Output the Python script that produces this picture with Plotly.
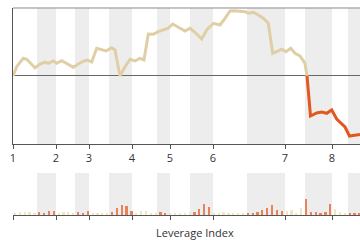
import plotly.graph_objects as go

# ---- data (x in index units along the leverage axis) ----
line_x = [0, 3.7, 10.3, 13.7, 22, 27, 32, 35.3, 40.3, 43.7, 48.7, 53.7, 60.3, 65.3, 70.3, 74.3,
          78.7, 83.7, 88.7, 93, 98.7, 102, 107, 112, 117, 122, 127, 131, 135.3, 140.3, 145.3,
          150.3, 155.3, 159.7, 165.3, 172, 177, 182, 188.7, 193.7, 200.3, 207, 212, 217, 222,
          227, 232, 235.3, 240.3, 245.3, 250.3, 255.3, 259.7, 263.7, 268.7, 273, 277.7, 282,
          287, 292, 294, 297.5, 303.7, 308.7, 313.7, 318.7, 323.7, 328.7, 332, 336.5, 342, 347]
line_y = [0, 9.3, 17.7, 16.7, 8.3, 12, 14, 12.7, 15, 12.7, 15.3, 12.7, 8.7, 12, 14.7, 16,
          14, 27.7, 26, 25, 28.3, 26, 0, 9.3, 16.7, 15, 17.7, 16, 42, 41.7, 44.3,
          46, 47.7, 52, 48.7, 45, 47.7, 43.7, 37, 46, 52.7, 51, 57.7, 65, 65.3,
          65, 64.3, 62.7, 63.7, 61, 57.7, 52.7, 22.7, 24.3, 26.7, 24.3, 27.7, 22.7,
          20, 12.7, 0, -40, -37, -36, -37.3, -34, -43, -48, -51, -60, -59.3, -58.5]

bar_heights = [2.5, 3, 3.5, 3, 2.5, 3, 2.5, 4, 4.5, 2, 3, 3, 2.5, 3.5, 2.5, 4.5,
               2, 2.5, 2, 2.5, 3.5, 7, 10, 9, 4.5, 2, 4, 4, 2, 2, 3, 2.5,
               2, 2, 2.5, 2.5, 3, 3.5, 6, 11, 8.5, 2.5, 2.5, 3, 2.5, 1.5, 2, 2,
               2.5, 2.5, 3.5, 5, 7, 10, 5.5, 4, 4, 5, 2, 7, 16, 3, 3, 2, 3, 11,
               6, 3, 2, 2, 2, 2]
bar_first = 2
bar_step = 4.85

band_starts = [24, 62, 96, 144, 177, 234, 292, 335]
band_ends = [43, 76, 119, 157, 200, 272, 319, 360]

tick_vals = [0, 43, 76, 119, 157, 200, 272, 319]
tick_text = ["1", "2", "3", "4", "5", "6", "7", "8"]

# ---- build ----
TAN = "#e0cfa6"
RED = "#e2571f"
BAR_IN = "#e8825a"
BAR_OUT = "#efe7bf"
BAND = "#ededed"

cross = line_y.index(0, 23)  # zero crossing where series turns negative
for i in range(1, len(line_y)):
    if line_y[i] < 0:
        cross = i - 1
        break

bar_x = [bar_first + bar_step * k for k in range(len(bar_heights))]
bar_colors = []
for bx in bar_x:
    inside = any(s <= bx <= e for s, e in zip(band_starts, band_ends))
    bar_colors.append(BAR_IN if inside else BAR_OUT)

fig = go.Figure()
fig.add_trace(go.Scatter(x=line_x[:cross + 1], y=line_y[:cross + 1], mode="lines",
                         line=dict(color=TAN, width=3), xaxis="x", yaxis="y",
                         showlegend=False, hoverinfo="skip"))
fig.add_trace(go.Scatter(x=line_x[cross:], y=line_y[cross:], mode="lines",
                         line=dict(color=RED, width=3), xaxis="x", yaxis="y",
                         showlegend=False, hoverinfo="skip"))
fig.add_trace(go.Bar(x=bar_x, y=bar_heights, width=2.2, marker=dict(color=bar_colors, line_width=0),
                     xaxis="x2", yaxis="y2", showlegend=False, hoverinfo="skip"))

shapes = []
for s, e in zip(band_starts, band_ends):
    shapes.append(dict(type="rect", xref="x", yref="y domain", x0=s, x1=e, y0=0, y1=1,
                       fillcolor=BAND, line_width=0, layer="below"))
    shapes.append(dict(type="rect", xref="x2", yref="y2 domain", x0=s, x1=e, y0=0, y1=1,
                       fillcolor=BAND, line_width=0, layer="below"))
shapes.append(dict(type="line", xref="paper", yref="y domain", x0=0, x1=1, y0=1, y1=1,
                   line=dict(color="#8a8a8a", width=1)))

font = dict(family="Open Sans, sans-serif", size=11, color="#333")

fig.update_layout(
    width=360, height=240,
    margin=dict(l=13, r=0, t=0, b=0),
    paper_bgcolor="white", plot_bgcolor="rgba(0,0,0,0)",
    font=font,
    shapes=shapes,
    bargap=0,
    xaxis=dict(domain=[0, 1], anchor="y", range=[0, 347], tickvals=tick_vals, ticktext=tick_text,
               showline=True, linecolor="#555", linewidth=1, ticks="outside", ticklen=4,
               tickcolor="#555", showgrid=False, zeroline=False, tickfont=font),
    yaxis=dict(domain=[0.4, 0.9667], range=[-68, 68], showticklabels=False, showgrid=False,
               showline=True, linecolor="#555", linewidth=1, zeroline=True,
               zerolinecolor="#666", zerolinewidth=1, ticks=""),
    xaxis2=dict(domain=[0, 1], anchor="y2", matches="x", range=[0, 347], tickvals=tick_vals,
                showticklabels=False, showline=True, linecolor="#555", linewidth=1,
                ticks="outside", ticklen=4, tickcolor="#555", showgrid=False, zeroline=False),
    yaxis2=dict(domain=[0.104, 0.279], range=[0, 42], showticklabels=False, showgrid=False,
                showline=False, zeroline=False, ticks=""),
    annotations=[dict(text="Leverage Index", xref="paper", yref="paper", x=0.5245, y=0.033,
                      xanchor="center", yanchor="middle", showarrow=False,
                      font=dict(family="Open Sans, sans-serif", size=11, color="#333"))],
)

fig.write_html("out.html")
